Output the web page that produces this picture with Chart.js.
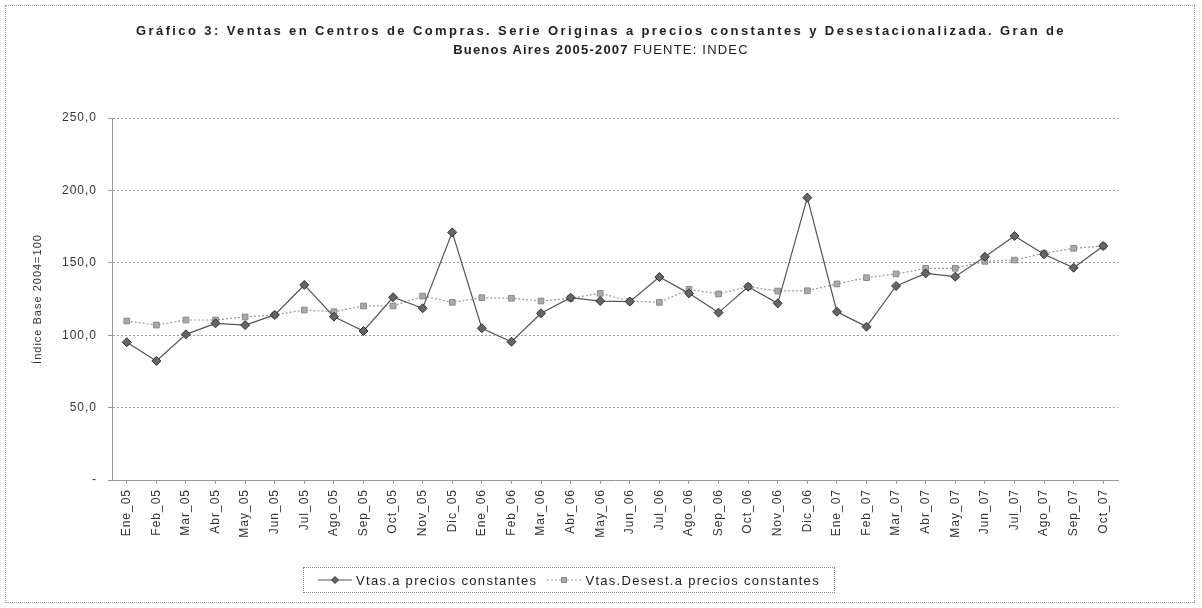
<!DOCTYPE html>
<html>
<head>
<meta charset="utf-8">
<script src="https://cdn.jsdelivr.net/npm/chart.js@4/dist/chart.umd.min.js"></script>
<style>
  body { margin: 0; background: #fff; font-family: "Liberation Sans", Arial, sans-serif; }
  #wrap { position: relative; width: 1202px; height: 608px; }
  #frame { position: absolute; left: 5px; top: 5px; width: 1190px; height: 598px; border: 1px dotted #999; box-sizing: border-box; }
  #title { position: absolute; left: 0; top: 21px; width: 1202px; text-align: center; font-size: 13px; line-height: 19px; color: #222; letter-spacing: 2.4px; }
  #title b { font-weight: bold; }
  #title .src { letter-spacing: 1.2px; }
  #legend { position: absolute; left: 303px; top: 567px; width: 532px; height: 26px; border: 1px dotted #888; box-sizing: border-box; display: flex; align-items: center; justify-content: center; font-size: 13px; color: #222; letter-spacing: 1.3px; }
  #legend .item { display: flex; align-items: center; margin: 0 5px; }
  #legend svg { margin-right: 4px; }
  canvas { position: absolute; left: 0; top: 0; }
</style>
</head>
<body>
<div id="wrap">
  <div id="frame"></div>
  <canvas id="lineChart" width="1202" height="608"></canvas>
  <div id="title">
    <b>Gráfico 3: Ventas en Centros de Compras. Serie Originas a precios constantes y Desestacionalizada. Gran de</b><br>
    <b class="src">Buenos Aires 2005-2007</b><span class="src"> FUENTE: INDEC</span>
  </div>
  <div id="legend"></div>
</div>
<script>
// =====================
// DATA
// =====================
const months = [
  "Ene_05", "Feb_05", "Mar_05", "Abr_05", "May_05", "Jun_05", "Jul_05", "Ago_05", "Sep_05", "Oct_05", "Nov_05", "Dic_05",
  "Ene_06", "Feb_06", "Mar_06", "Abr_06", "May_06", "Jun_06", "Jul_06", "Ago_06", "Sep_06", "Oct_06", "Nov_06", "Dic_06",
  "Ene_07", "Feb_07", "Mar_07", "Abr_07", "May_07", "Jun_07", "Jul_07", "Ago_07", "Sep_07", "Oct_07"
];

// Vtas.a precios constantes
const ventas = [
  95.1, 82.2, 100.6, 108.2, 107.0, 114.0, 134.7, 112.8, 102.9, 126.2, 118.6, 171.0,
  104.8, 95.5, 115.1, 125.9, 123.6, 123.2, 140.2, 128.9, 115.6, 133.5, 122.0, 195.0,
  116.2, 105.9, 134.0, 142.7, 140.4, 154.2, 168.5, 155.9, 146.6, 161.6
];

// Vtas.Desest.a precios constantes
const ventasDesest = [
  109.8, 107.0, 110.5, 110.5, 112.6, 114.0, 117.4, 116.2, 120.2, 120.2, 127.0, 122.7,
  125.9, 125.5, 123.6, 125.5, 128.9, 123.6, 122.7, 131.7, 128.5, 133.5, 130.5, 130.7,
  135.4, 139.7, 142.3, 146.2, 146.2, 151.0, 151.9, 156.6, 160.0, 161.6
];

const yTicks = [0, 50, 100, 150, 200, 250];

const seriesNames = ["Vtas.a precios constantes", "Vtas.Desest.a precios constantes"];

// wider letter spacing for the axis texts, like the scanned original
const spacingPlugin = {
  id: "spacing",
  beforeLayout: c => { c.ctx.letterSpacing = "1px"; },
  beforeDraw: c => { c.ctx.letterSpacing = "1px"; }
};

// =====================
// CHART
// =====================
const chart = new Chart(document.getElementById("lineChart"), {
  type: "line",
  plugins: [spacingPlugin],
  data: {
    labels: months,
    datasets: [{
      label: seriesNames[0],
      data: ventas,
      borderColor: "#555",
      borderWidth: 1.2,
      pointStyle: "rectRot",
      pointRadius: 4.5,
      pointBackgroundColor: "#666",
      pointBorderColor: "#333",
      pointBorderWidth: 1,
      tension: 0
    }, {
      label: seriesNames[1],
      data: ventasDesest,
      borderColor: "#999",
      borderWidth: 1.2,
      borderDash: [2, 2],
      pointStyle: "rect",
      pointRadius: 4,
      pointBackgroundColor: "#aaa",
      pointBorderColor: "#888",
      pointBorderWidth: 1,
      tension: 0
    }]
  },
  options: {
    responsive: false,
    animation: false,
    layout: { padding: { left: 27, top: 118, right: 84, bottom: 68 } },
    plugins: {
      legend: { display: false },
      title: { display: false },
      tooltip: { enabled: false }
    },
    scales: {
      x: {
        offset: true,
        grid: { display: true, drawOnChartArea: false, tickLength: 4, color: "#999" },
        border: { color: "#999" },
        ticks: {
          autoSkip: false,
          maxRotation: 90,
          minRotation: 90,
          padding: 5,
          color: "#333",
          font: { family: "Liberation Sans", size: 12 }
        },
        afterFit: s => { s.height = 60; }
      },
      y: {
        min: 0,
        max: 250,
        afterBuildTicks: s => { s.ticks = yTicks.map(v => ({ value: v })); },
        grid: { color: "#999", tickLength: 4 },
        border: { color: "#999", dash: [2, 2] },
        ticks: {
          padding: 11,
          color: "#333",
          font: { family: "Liberation Sans", size: 12 },
          callback: v => v === 0 ? "-" : v.toFixed(1).replace(".", ",")
        },
        title: {
          display: true,
          text: "Índice Base 2004=100",
          color: "#333",
          font: { family: "Liberation Sans", size: 11 },
          padding: 4
        },
        afterFit: s => { s.width = 85; }
      }
    }
  }
});

// =====================
// LEGEND
// =====================
function buildLegend() {
  const box = document.getElementById("legend");
  box.innerHTML = "";
  chart.data.datasets.forEach(ds => {
    const dash = ds.borderDash ? ds.borderDash.join(",") : "none";
    const marker = ds.pointStyle === "rectRot"
      ? `<polygon points="17,1.5 20.5,5 17,8.5 13.5,5" fill="${ds.pointBackgroundColor}" stroke="${ds.pointBorderColor}" stroke-width="1"/>`
      : `<rect x="14.5" y="2.5" width="5" height="5" fill="${ds.pointBackgroundColor}" stroke="${ds.pointBorderColor}" stroke-width="1"/>`;
    box.innerHTML += `
      <div class="item">
        <svg width="34" height="10">
          <line x1="0" y1="5" x2="34" y2="5" stroke="${ds.borderColor}" stroke-width="1" stroke-dasharray="${dash}"/>
          ${marker}
        </svg>
        <span>${ds.label}</span>
      </div>
    `;
  });
}
buildLegend();
</script>
</body>
</html>
